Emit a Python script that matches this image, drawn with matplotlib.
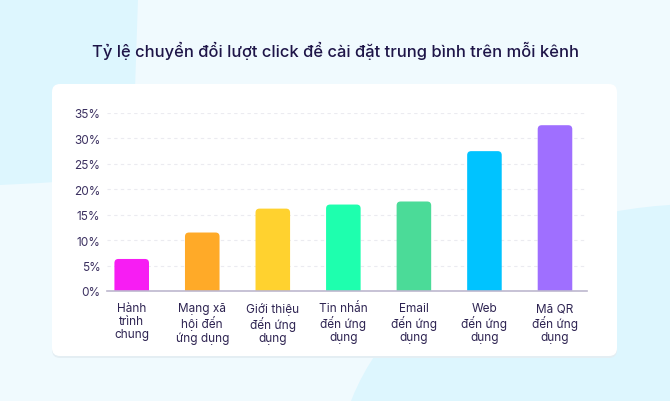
import matplotlib
matplotlib.use('Agg')
import matplotlib.pyplot as plt
from matplotlib.patches import FancyBboxPatch, Ellipse, Polygon

plt.rcParams['font.family'] = ['Inter', 'DejaVu Sans']

# Data
categories = ['Hành\ntrình\nchung', 'Mạng xã\nhội đến\nứng dụng', 'Giới thiệu\nđến ứng\ndụng',
              'Tin nhắn\nđến ứng\ndụng', 'Email\nđến ứng\ndụng', 'Web\nđến ứng\ndụng', 'Mã QR\nđến ứng\ndụng']
values = [6.3, 11.5, 16.2, 17.0, 17.6, 27.5, 32.6]
colors = ['#F71DF3', '#FFAA28', '#FFD22F', '#1EFFAE', '#4BDB98', '#00C3FF', '#9F6FFF']
yticks = [0, 5, 10, 15, 20, 25, 30, 35]

W, H = 670, 402
fig = plt.figure(figsize=(W / 100, H / 100), dpi=100)
fig.patch.set_facecolor('#F0FAFE')

# background blobs
fig.patches.append(Polygon([(0, 1), (138 / W, 1), (134 / W, 1 - 120 / H), (130 / W, 1 - 178 / H),
                            (40 / W, 1 - 184 / H), (0, 1 - 186 / H)],
                           closed=True, transform=fig.transFigure, facecolor='#DDF6FE',
                           edgecolor='none', zorder=0))
fig.patches.append(Ellipse((700 / W, 1 - 480 / H), 728 / W, 550 / H, transform=fig.transFigure,
                           facecolor='#DDF6FE', edgecolor='none', zorder=0))

# white card with faint shadow
fig.patches.append(FancyBboxPatch((52 / W, 1 - 359 / H), 565 / W, 272 / H,
                                  boxstyle='round,pad=0,rounding_size=0.012',
                                  transform=fig.transFigure, facecolor='#E4EEF3',
                                  edgecolor='none', zorder=0.5, mutation_aspect=W / H))
fig.patches.append(FancyBboxPatch((52 / W, 1 - 357 / H), 565 / W, 272 / H,
                                  boxstyle='round,pad=0,rounding_size=0.012',
                                  transform=fig.transFigure, facecolor='white',
                                  edgecolor='none', zorder=0.6, mutation_aspect=W / H))

fig.text(336 / W, 1 - 51 / H, 'Tỷ lệ chuyển đổi lượt click để cài đặt trung bình trên mỗi kênh',
         ha='center', va='center', fontsize=11.9, fontweight='medium', color='#1E1548')

ax = fig.add_axes([107.3 / W, 1 - 292 / H, 480 / W, 178 / H])
ax.set_zorder(2)
ax.set_facecolor('none')

x = list(range(len(categories)))
bars = ax.bar(x, values, width=0.49, color=colors, zorder=3)
ax.set_xlim(-0.346, 6.458)
ax.set_ylim(0, 35)

# swap the plain bars for ones with rounded top corners
xpx = 480 / (6.458 + 0.346)
ypx = 178 / 35
for b, c in zip(bars, colors):
    b.set_visible(False)
    p = FancyBboxPatch((b.get_x(), -2), b.get_width(), b.get_height() + 2,
                       boxstyle='round,pad=0,rounding_size=%f' % (4 / xpx),
                       mutation_aspect=xpx / ypx, facecolor=c, edgecolor='none', zorder=3)
    ax.add_patch(p)

ax.set_yticks(yticks)
ax.set_yticklabels([f'{t}%' for t in yticks])
ax.set_xticks(x)
ax.set_xticklabels(categories, linespacing=1.1, multialignment='center')
ax.tick_params(axis='y', length=0, pad=5, labelsize=8.5, labelcolor='#3B3060')
ax.tick_params(axis='x', length=0, pad=8, labelsize=8.5, labelcolor='#2E2452')
ax.grid(axis='y', color='#EBEBF0', linestyle=(0, (3, 3)), linewidth=0.8, zorder=0)
for s in ['top', 'right', 'left']:
    ax.spines[s].set_visible(False)
ax.spines['bottom'].set_color('#BDB8CE')
ax.spines['bottom'].set_linewidth(1.2)
ax.spines['bottom'].set_zorder(4)

plt.savefig('out.png', dpi=100)
